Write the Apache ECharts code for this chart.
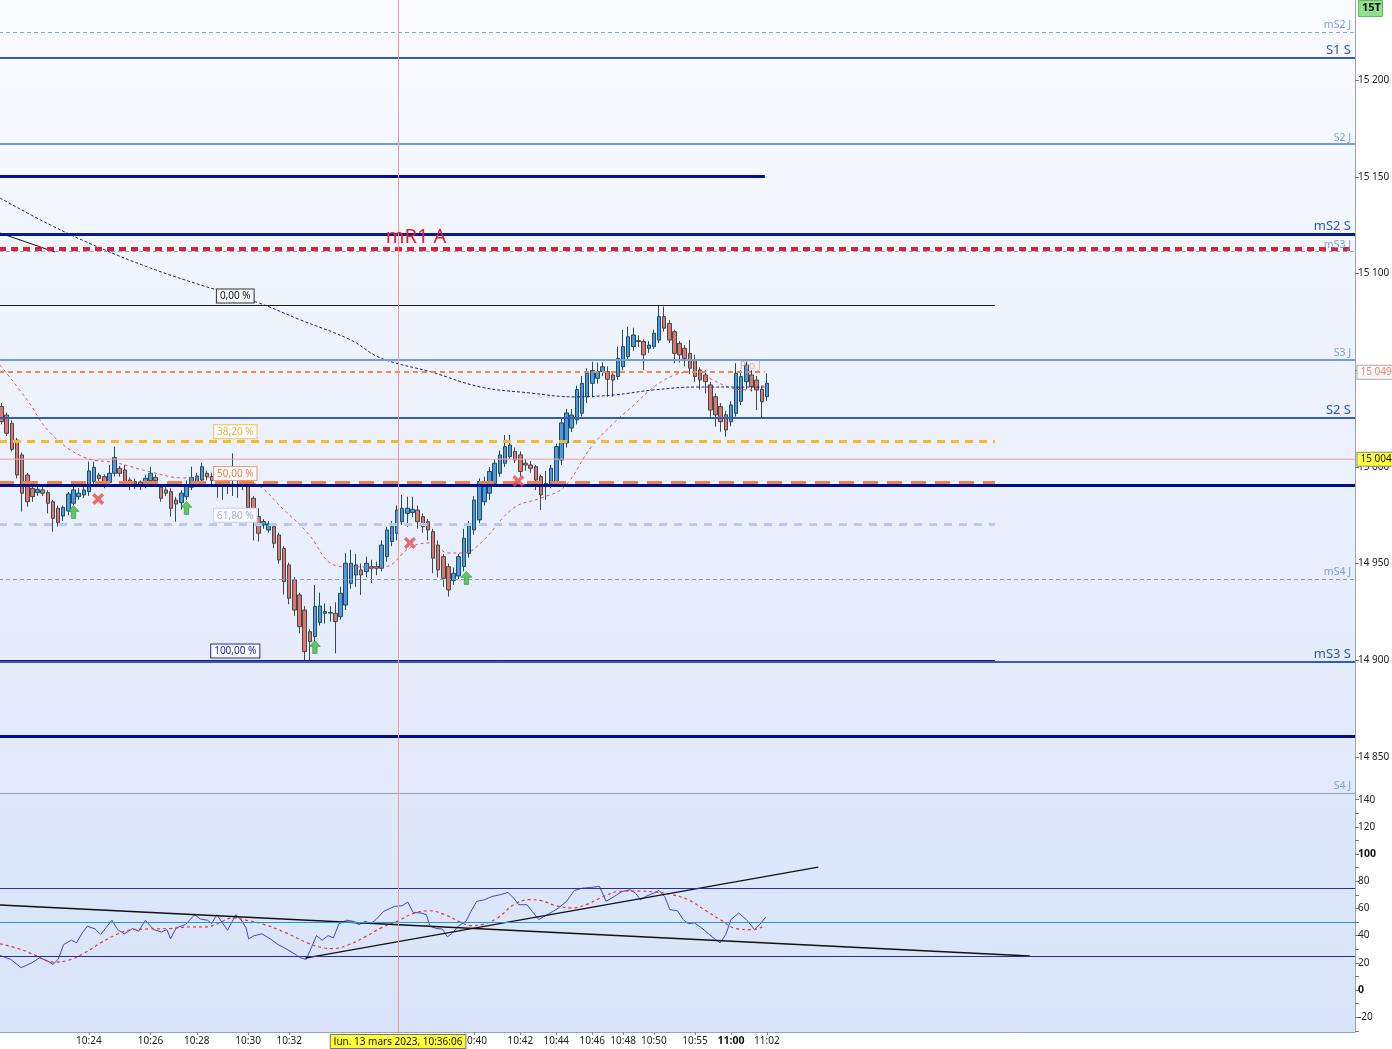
<!DOCTYPE html>
<html><head><meta charset="utf-8">
<script src="https://cdn.jsdelivr.net/npm/echarts@6/dist/echarts.min.js"></script>
<style>html,body{margin:0;padding:0;background:#fff}#c{width:1392px;height:1049px}</style>
</head><body><div id="c"></div>
<script>
// ---------- DATA ----------
const SLOTS = 264; // candle slots across the plot width (150 used)
const opens = [15031.2,15026.8,15022.5,15013.9,15006.2,14995.8,14988.9,14986.7,14988.1,14986.7,
14982.0,14978.6,14974.6,14977.2,14981.2,14984.6,14985.5,14987.2,14992.4,14995.8,
14995.0,14991.9,14996.7,14999.3,14998.4,14993.2,14992.4,14992.2,14991.5,14992.9,
14994.6,14989.5,14988.1,14987.2,14982.9,14981.5,14984.6,14989.5,14992.4,14993.2,
14996.7,14995.0,14992.0,14990.5,14991.5,14990.0,14991.0,14990.0,14990.5,14983.8,
14974.3,14970.0,14967.4,14969.1,14964.8,14957.9,14949.3,14941.6,14933.8,14926.0,
14914.8,14912.3,14919.5,14924.3,14924.8,14924.3,14922.6,14928.6,14939.8,14944.1,
14946.7,14945.9,14948.5,14948.5,14947.6,14953.6,14961.4,14965.7,14971.7,14976.0,
14976.4,14977.7,14974.3,14971.7,14966.5,14959.6,14953.6,14948.4,14941.2,14943.6,
14948.5,14955.3,14967.4,14972.6,14982.0,14986.4,14991.5,14996.7,15001.9,15005.3,
15007.9,15006.2,15001.9,15001.0,15000.1,14995.0,14991.5,14990.7,14991.5,15003.6,
15012.4,15020.1,15024.3,15027.7,15036.3,15043.2,15045.8,15049.3,15049.3,15047.5,
15046.7,15051.8,15057.0,15062.2,15065.3,15064.8,15061.3,15062.2,15065.6,15077.7,
15074.2,15069.9,15063.9,15061.3,15058.7,15055.3,15050.1,15047.5,15042.4,15036.3,
15031.2,15026.9,15023.4,15027.7,15033.9,15044.1,15047.5,15044.9,15040.1,15036.3];
const closes = [15023.4,15017.4,15009.1,14995.8,14986.4,14982.0,14984.6,14988.4,14986.4,14981.2,
14973.4,14971.2,14979.1,14986.0,14988.1,14986.4,14988.1,14997.9,14999.8,14993.9,
14992.4,14996.7,15004.8,14996.7,14992.2,14990.7,14991.2,14990.5,14994.1,14996.7,
14992.9,14983.8,14986.4,14978.6,14980.8,14986.4,14990.7,14994.6,14995.3,15000.1,
14995.0,14993.0,14990.5,14991.5,14990.0,14991.0,14990.0,14991.0,14979.0,14974.3,
14965.7,14971.7,14970.5,14960.5,14951.9,14940.7,14932.1,14926.0,14917.4,14904.5,
14909.7,14927.8,14928.1,14925.2,14924.4,14920.0,14934.6,14950.2,14950.2,14949.3,
14944.1,14950.2,14947.6,14947.6,14959.6,14967.4,14969.1,14977.7,14978.6,14978.6,
14978.1,14971.7,14969.1,14967.4,14952.8,14946.7,14942.4,14936.4,14945.0,14953.6,
14963.1,14970.0,14982.9,14992.4,14992.4,14997.6,15001.9,15006.2,15010.5,15011.3,
15003.6,14997.6,15001.0,14999.3,14993.2,14985.5,14990.7,14999.3,15010.5,15022.7,
15027.9,15026.8,15040.0,15043.2,15048.4,15049.8,15049.3,15051.8,15045.3,15044.9,
15056.1,15062.2,15067.3,15068.2,15064.8,15057.9,15063.0,15069.1,15077.7,15071.7,
15065.6,15058.7,15057.9,15056.1,15051.0,15046.7,15044.9,15044.1,15029.4,15026.9,
15023.4,15019.1,15032.0,15048.4,15046.7,15052.7,15041.5,15039.8,15033.7,15043.2];
const lows = [15022.0,15016.0,15008.0,14994.0,14976.9,14979.5,14982.0,14985.0,14985.0,14976.0,
14966.5,14969.1,14972.0,14975.0,14980.0,14983.0,14984.0,14985.0,14990.0,14992.0,
14989.0,14990.0,14995.0,14995.0,14990.0,14988.0,14988.5,14988.0,14989.0,14991.0,
14991.0,14982.0,14985.0,14974.3,14971.7,14978.0,14983.0,14988.0,14991.0,14992.0,
14993.0,14991.0,14984.0,14983.0,14986.0,14985.0,14984.0,14988.0,14977.0,14962.0,
14961.4,14968.0,14966.0,14958.0,14950.0,14934.0,14929.0,14923.0,14914.0,14899.9,
14899.5,14910.0,14918.0,14919.0,14920.0,14903.6,14921.0,14926.0,14937.0,14938.0,
14933.8,14943.0,14940.0,14944.0,14946.0,14951.0,14959.0,14962.0,14970.0,14969.0,
14974.0,14968.0,14966.0,14962.0,14945.0,14943.0,14938.0,14933.0,14939.0,14942.0,
14946.0,14953.0,14965.0,14970.0,14980.0,14983.0,14990.0,14995.0,15000.0,15004.0,
15002.0,14995.0,14998.0,14997.0,14988.0,14977.7,14983.0,14989.0,14990.0,15001.0,
15010.0,15018.0,15022.0,15026.0,15033.0,15036.0,15043.0,15047.0,15036.3,15036.3,
15045.0,15050.0,15055.0,15060.0,15062.0,15050.1,15059.0,15061.0,15064.0,15070.0,
15064.0,15053.6,15054.0,15052.0,15048.0,15044.0,15040.0,15038.0,15026.0,15020.8,
15018.2,15015.7,15021.0,15026.0,15032.0,15040.0,15039.0,15029.4,15025.1,15034.0];
const highs = [15033.0,15028.0,15024.0,15015.0,15007.5,14997.0,14990.0,14990.0,14989.5,14988.0,
14983.0,14980.0,14980.0,14987.0,14991.0,14989.0,14992.0,15002.7,15002.7,14997.0,
14996.0,15001.0,15010.5,15000.5,15001.0,14994.5,14994.0,14993.0,14996.0,15000.1,
14996.0,14991.0,14989.5,14989.0,14984.5,14988.0,14993.0,15000.1,14997.0,15002.2,
14998.0,14997.0,14994.0,14995.0,14993.0,15007.0,14994.0,14994.0,14992.0,14985.0,
14978.6,14973.0,14972.0,14970.5,14966.0,14959.0,14950.5,14943.0,14935.0,14928.0,
14916.0,14939.0,14935.0,14929.5,14928.0,14930.0,14938.0,14955.4,14957.1,14955.0,
14950.0,14953.6,14952.0,14951.0,14962.0,14969.0,14972.0,14980.0,14985.5,14984.6,
14984.6,14980.0,14976.0,14973.0,14968.0,14962.0,14955.0,14950.0,14948.0,14955.0,
14968.0,14972.0,14985.0,14994.0,14995.0,15000.0,15004.0,15008.5,15016.5,15016.5,
15010.0,15008.0,15004.0,15003.0,15001.0,14996.0,14998.0,15001.0,15012.0,15025.0,
15030.0,15030.0,15042.0,15047.0,15051.0,15054.4,15054.0,15054.0,15052.0,15049.0,
15062.2,15070.8,15072.5,15072.0,15068.0,15066.0,15065.0,15071.0,15083.2,15082.9,
15076.0,15071.0,15065.0,15063.0,15065.6,15058.0,15051.5,15050.0,15044.0,15038.0,
15033.0,15029.0,15034.0,15053.6,15050.0,15054.4,15050.0,15047.0,15042.0,15048.4];

const timeTickIndex  = [17,29,38,48,56,92,101,108,115,121,127,135,142,149];
const timeTickLabels = ['10:24','10:26','10:28','10:30','10:32','10:40','10:42','10:44','10:46','10:48','10:50','10:55','11:00','11:02'];
const boldTimeLabel = '11:00';

const priceTicks = [14850,14900,14950,15000,15050,15100,15150,15200];
const rsiTicks = [-20,0,20,40,60,80,100,120,140];
const rsiMinorTicks = [-30,-20,-10,0,10,20,30,40,50,60,70,80,90,100,110,120,130,140];
const boldRsiLabels = [0,100];

const levelNames  = ['mS2 J','S1 S','S2 J','','mS2 S','mS3 J','mR1 A','S3 J','Pio J','S2 S','','mS4 J','mS3 S','','S4 J'];
const levelValues = [15224.9,15211.4,15166.9,15150.4,15120.4,15111.6,15112.7,15055.3,15049.0,15025.3,14990.6,14942.1,14899.1,14860.9,14831.4];
const levelEnds   = [263.5,263.5,263.5,148.6,263.5,263.5,263.5,263.5,148.6,263.5,263.5,263.5,263.5,263.5,263.5];
const levelKinds  = ['dashJ','solidS','solidJ','navy','navyS','dashJ','red','solidJ','pivot','solidS','navy','dashGrey','solidS','navy','border'];
const mR1LabelAt = 80.7;

const fiboLabels = ['0,00 %','38,20 %','50,00 %','61,80 %','100,00 %'];
const fiboValues = [15083.7,15013.5,14992.0,14970.3,14900.2];
const fiboEnd = 193.4;
const fiboLabelAt = 45.5;

const currentPrice = 15004;
const pivotTag = 15049;
const crosshairIndex = 77.2;
const crosshairLabel = 'lun. 13 mars 2023, 10:36:06';
const timeframe = '15T';

const ma20 = [[-0.3,15052.7],[5,15034.6],[9.5,15017.5],[16,15005.1],[22.5,15002.0],[29,14997.4],[35.4,14994.3],[41.3,14994.8],[49,14991.7],[55,14977.7],[59.6,14965.8],[64.7,14949.3],[68,14948.3],[74.4,14948.3],[79.7,14958.6],[83.6,14960.7],[86.9,14955.5],[90,14955.5],[93.3,14960.7],[99.7,14978.8],[105,14983.9],[109.5,14989.6],[114.8,15010.3],[119.2,15022.7],[123.1,15032.0],[127,15041.3],[131,15047.5],[134.3,15049.1],[137.6,15046.0],[142,15040.8],[145.4,15039.8],[148.5,15042.4]];
const ma200 = [[-0.3,15139.0],[9.5,15125.1],[19.2,15113.2],[29,15102.8],[38.7,15094.1],[49.5,15085.3],[58.2,15076.0],[68,15065.6],[73.8,15056.3],[83.6,15049.1],[93.3,15041.3],[103,15038.2],[111.4,15036.2],[119.2,15037.2],[127,15039.8],[135.6,15041.3],[142,15041.3],[148.5,15041.3]];
const priceTrend = [[-0.3,15120.9],[10.4,15111.1]];

const upSignals = [[14,14976.7],[36,14978.8],[61,14906.9],[90.5,14942.6]];
const downSignals = [[18.8,14983.4],[79.5,14960.7],[100.6,14992.7]];

const rsiLine = [[-0.3,25.4],[1.8,22.5],[3.8,16.4],[5.9,20.0],[7.4,23.7],[9.0,21.3],[10.0,18.8],[11.0,22.5],[12.1,33.5],[13.6,36.6],[14.6,34.7],[15.7,42.0],[16.7,46.9],[18.2,44.9],[19.3,40.8],[20.3,45.7],[21.5,51.3],[22.6,44.4],[23.9,41.3],[25.5,45.2],[26.7,43.2],[28.0,51.3],[29.6,44.4],[31.1,42.7],[32.2,44.4],[32.9,37.6],[34.0,45.7],[35.8,48.1],[37.6,55.4],[38.7,52.2],[40.1,51.3],[40.9,48.8],[41.9,55.4],[43.0,49.3],[44.0,44.0],[45.6,55.4],[46.6,51.8],[47.6,45.7],[48.1,37.6],[49.2,40.0],[50.7,41.3],[52.3,37.6],[53.8,33.5],[55.4,30.3],[56.9,26.9],[58.2,23.7],[59.3,22.5],[60.3,31.0],[61.3,40.0],[62.4,36.6],[63.6,40.0],[64.6,38.3],[65.7,48.8],[67.2,51.3],[68.5,50.5],[69.6,48.1],[70.8,50.5],[71.9,48.8],[72.9,51.8],[74.4,57.9],[76.5,61.5],[78.0,62.0],[79.1,64.7],[80.1,57.1],[81.7,56.6],[82.7,55.4],[83.4,46.9],[84.7,45.2],[85.8,44.9],[86.8,39.1],[87.8,42.0],[88.9,46.9],[90.4,50.5],[91.4,57.9],[92.5,65.2],[94.0,66.4],[95.5,68.8],[97.1,70.1],[98.6,71.8],[99.7,67.6],[100.7,62.7],[102.3,62.7],[103.3,57.9],[104.6,51.8],[105.9,54.7],[107.4,57.9],[108.4,60.3],[110.0,65.2],[111.5,73.2],[113.1,74.9],[114.6,75.4],[116.4,76.2],[117.7,65.2],[119.3,68.8],[120.8,72.5],[122.4,73.7],[123.4,71.3],[124.4,66.4],[125.4,68.8],[127.0,71.3],[128.0,73.2],[129.1,68.8],[130.1,59.1],[131.6,58.3],[132.7,51.8],[133.7,48.8],[134.9,49.3],[136.3,45.7],[137.8,40.8],[139.0,37.1],[139.9,34.7],[141.0,40.8],[142.0,51.8],[143.5,56.6],[145.0,51.8],[146.6,44.4],[147.6,48.1],[148.8,53.7]];
const rsiSignal = [[-0.3,34.0],[3.8,29.8],[6.9,24.9],[10.0,20.5],[13.1,22.0],[16.2,27.4],[19.3,34.7],[22.4,40.8],[25.5,44.4],[28.6,44.9],[32.7,45.2],[36.8,46.4],[39.9,46.4],[42.0,48.8],[45.0,53.0],[48.1,51.0],[51.2,48.1],[55.4,42.0],[59.5,34.7],[62.6,31.0],[64.6,30.5],[67.7,33.5],[70.8,39.1],[73.9,45.7],[77.0,50.5],[80.1,56.2],[83.2,58.3],[86.3,55.4],[89.4,49.8],[91.4,47.4],[93.5,48.1],[96.6,53.0],[99.7,62.7],[102.8,66.4],[104.8,65.9],[107.9,62.0],[111.0,60.3],[114.1,63.2],[117.2,68.8],[120.3,72.5],[123.4,72.7],[127.5,72.0],[130.6,70.1],[133.7,66.4],[136.8,59.1],[139.9,51.8],[143.0,45.2],[146.1,44.4],[148.1,46.4]];
const rsiLevels = [75,50,25];
const rsiTrendA = [[-0.3,62.5],[200.2,25.0]];
const rsiTrendB = [[59.1,23.5],[159.0,90.4]];

// ---------- STYLES ----------
const kindStyles = {
  dashJ:   {color:'#86a3e3', width:1, type:[4,3], labelColor:'#7f9de3', fontSize:10.5},
  solidS:  {color:'#3459c0', width:2, type:'solid', labelColor:'#2c55b8', fontSize:13},
  solidJ:  {color:'#739ce6', width:2, type:'solid', labelColor:'#7f9de3', fontSize:10.5},
  navy:    {color:'#000e8c', width:3, type:'solid'},
  navyS:   {color:'#0a1a8c', width:3, type:'solid', labelColor:'#2c55b8', fontSize:13},
  red:     {color:'#e3202b', width:4, type:[7,5]},
  pivot:   {color:'#f08848', width:2, type:[5,4], labelColor:'#f2ad90', fontSize:10.5},
  dashGrey:{color:'#8d95cc', width:1, type:[4,3], labelColor:'#7f9de3', fontSize:10.5},
  border:  {color:'#9aa4b8', width:1, type:'solid', labelColor:'#7f9de3', fontSize:10.5}
};
const fiboStyle = [
  {line:'#1a1a1a', width:1, type:'solid', text:'#111', border:'#333'},
  {line:'#f5b82e', width:3, type:[8,6], text:'#f0b23a', border:'#f5c451'},
  {line:'#f0804e', width:3, type:[15,9], text:'#ee7b45', border:'#f29a70'},
  {line:'#b9c9f6', width:3, type:[8,7], text:'#9fb0dc', border:'#c6d3f5'},
  {line:'#1b1b70', width:1, type:'solid', text:'#2c2c9c', border:'#2c2c9c'}
];
const FONT = 'Noto Sans, DejaVu Sans, sans-serif';

// ---------- BUILD ----------
const fmt = v => String(v).replace(/\B(?=(\d{3})+(?!\d))/g, ' ');
const cats = Array.from({length: SLOTS}, (_, i) => String(i));
const tickMap = {};
timeTickIndex.forEach((k, j) => tickMap[k] = timeTickLabels[j]);
const showTick = idx => tickMap[idx] !== undefined;

const candleData = opens.map((o, i) => [o, closes[i], lows[i], highs[i]]);

const levelLines = levelValues.map((v, i) => {
  const st = kindStyles[levelKinds[i]];
  const hasLabel = levelNames[i] && st.labelColor;
  return [{
    coord: [-0.5, v],
    lineStyle: {color: st.color, width: st.width, type: st.type},
    label: hasLabel ? {show: true, position: 'insideEndTop', formatter: levelNames[i], color: st.labelColor,
      fontSize: st.fontSize, fontFamily: FONT, distance: [4, 1]} : {show: false}
  }, {coord: [levelEnds[i], v]}];
});
const fiboLines = fiboValues.map((v, i) => [{
  coord: [-0.5, v],
  lineStyle: {color: fiboStyle[i].line, width: fiboStyle[i].width, type: fiboStyle[i].type},
  label: {show: false}
}, {coord: [fiboEnd, v]}]);

const fiboPoints = fiboValues.map((v, i) => ({
  coord: [fiboLabelAt, v],
  symbol: 'circle', symbolSize: 1, itemStyle: {color: 'rgba(0,0,0,0)'},
  label: {show: true, position: 'top', distance: 2, formatter: fiboLabels[i], color: fiboStyle[i].text,
    borderColor: fiboStyle[i].border, borderWidth: 1, backgroundColor: 'rgba(252,253,255,0.95)',
    padding: [2, 3, 1, 3], fontSize: 10, fontFamily: FONT}
}));
const mr1Value = levelValues[levelNames.indexOf('mR1 A')];
const tagPoints = [
  {coord: [SLOTS - 0.5, currentPrice], symbol: 'circle', symbolSize: 1, itemStyle: {color: 'rgba(0,0,0,0)'},
   label: {show: true, position: 'right', distance: 2, formatter: fmt(currentPrice), color: '#111', backgroundColor: '#ffff3c',
     borderColor: '#888', borderWidth: 1, padding: [2, 3, 1, 3], fontSize: 10, fontFamily: FONT}},
  {coord: [SLOTS - 0.5, pivotTag], symbol: 'circle', symbolSize: 1, itemStyle: {color: 'rgba(0,0,0,0)'},
   label: {show: true, position: 'right', distance: 2, formatter: fmt(pivotTag), color: '#f08860', backgroundColor: '#f6f7fa',
     borderColor: '#aaa', borderWidth: 1, padding: [2, 3, 1, 3], fontSize: 10, fontFamily: FONT}},
  {coord: [mR1LabelAt, mr1Value], symbol: 'circle', symbolSize: 1, itemStyle: {color: 'rgba(0,0,0,0)'},
   label: {show: true, position: 'top', distance: 1, formatter: 'mR1 A', color: '#e3202b', fontSize: 20, fontFamily: FONT}}
];

const arrowPath = 'path://M5 0 L10 5 L7 5 L7 11 L3 11 L3 5 L0 5 Z';
const crossPath = 'path://M0 2 L2 0 L5 3 L8 0 L10 2 L7 5 L10 8 L8 10 L5 7 L2 10 L0 8 L3 5 Z';

const chart = echarts.init(document.getElementById('c'));
chart.setOption({
  animation: false,
  textStyle: {fontFamily: FONT},
  graphic: [
    {type: 'rect', left: 1358, top: 0, z: 100, shape: {width: 24, height: 16}, style: {fill: '#8fe08f', stroke: '#6ab56a'}},
    {type: 'text', left: 1362, top: 2, z: 101, style: {text: timeframe, fontSize: 11, fontWeight: 'bold', fill: '#111', fontFamily: FONT}}
  ],
  grid: [
    {left: -1, right: 37, top: 0, height: 793, show: true, borderWidth: 0, outerBoundsMode: 'none',
     backgroundColor: new echarts.graphic.LinearGradient(0, 0, 0, 1, [{offset: 0, color: '#f9fbff'}, {offset: 1, color: '#e1e9fb'}])},
    {left: -1, right: 37, top: 793, height: 239, show: true, borderWidth: 0, outerBoundsMode: 'none',
     backgroundColor: new echarts.graphic.LinearGradient(0, 0, 0, 1, [{offset: 0, color: '#dfe8fb'}, {offset: 1, color: '#d9e4fa'}])}
  ],
  xAxis: [
    {type: 'category', gridIndex: 0, data: cats, boundaryGap: true, position: 'bottom',
     axisLine: {show: true, onZero: false, lineStyle: {color: '#9aa4b8'}}, axisTick: {show: false}, axisLabel: {show: false}, splitLine: {show: false}},
    {type: 'value', gridIndex: 0, min: -0.5, max: SLOTS - 0.5, show: false, axisLine: {onZero: false}},
    {type: 'category', gridIndex: 1, data: cats, boundaryGap: true, position: 'bottom',
     axisLine: {show: true, onZero: false, lineStyle: {color: '#9aa4b8'}},
     axisTick: {show: true, interval: showTick, alignWithLabel: true, length: 3, lineStyle: {color: '#888'}},
     axisLabel: {interval: showTick, margin: 4, fontSize: 10, color: '#222', fontFamily: FONT,
       formatter: (v) => { const t = tickMap[Number(v)] || ''; return t === boldTimeLabel ? '{b|' + t + '}' : t; },
       rich: {b: {fontWeight: 'bold', fontSize: 10.5, color: '#111', fontFamily: FONT}}},
     splitLine: {show: false}},
    {type: 'value', gridIndex: 1, min: -0.5, max: SLOTS - 0.5, show: false, axisLine: {onZero: false}}
  ],
  yAxis: [
    {type: 'value', gridIndex: 0, position: 'right', min: 14831.4, max: 15241.4,
     axisLine: {show: true, onZero: false, lineStyle: {color: '#9aa4b8'}},
     axisTick: {show: true, length: 4, customValues: priceTicks, lineStyle: {color: '#777'}},
     axisLabel: {customValues: priceTicks, formatter: v => fmt(v), color: '#222', fontSize: 10, margin: 3, fontFamily: FONT},
     splitLine: {show: false}},
    {type: 'value', gridIndex: 1, position: 'right', min: -30.9, max: 144.9,
     axisLine: {show: true, onZero: false, lineStyle: {color: '#9aa4b8'}},
     axisTick: {show: true, length: 4, customValues: rsiMinorTicks, lineStyle: {color: '#777'}},
     axisLabel: {customValues: rsiTicks, color: '#222', fontSize: 10, margin: 3, fontFamily: FONT,
       formatter: v => boldRsiLabels.includes(v) ? '{b|' + v + '}' : String(v),
       rich: {b: {fontWeight: 'bold', fontSize: 10.5, color: '#111', fontFamily: FONT}}},
     splitLine: {show: false}}
  ],
  series: [
    {type: 'candlestick', name: 'prix', xAxisIndex: 0, yAxisIndex: 0, data: candleData, barWidth: 4, z: 2,
     itemStyle: {color: '#4e97e6', color0: '#e0766b', borderColor: '#1f4e5a', borderColor0: '#3c4a4c', borderWidth: 1}},
    {type: 'line', name: 'cours', xAxisIndex: 1, yAxisIndex: 0, z: 3, clip: false,
     data: [[-0.5, currentPrice], [SLOTS - 0.5, currentPrice]], symbol: 'none',
     lineStyle: {color: '#f4a3a3', width: 1},
     markLine: {symbol: ['none', 'none'], silent: true, animation: false,
       data: [...levelLines, ...fiboLines,
         {xAxis: crosshairIndex, lineStyle: {color: '#f29a9a', width: 1, type: 'solid'}, label: {show: false}}]},
     markPoint: {silent: true, animation: false, data: [...fiboPoints, ...tagPoints]}},
    {type: 'line', name: 'MA court', xAxisIndex: 1, yAxisIndex: 0, data: ma20, smooth: 0.4, symbol: 'none', z: 4,
     lineStyle: {color: '#e25656', width: 1, type: [3, 3]}},
    {type: 'line', name: 'MA long', xAxisIndex: 1, yAxisIndex: 0, data: ma200, smooth: 0.4, symbol: 'none', z: 4,
     lineStyle: {color: '#1a237e', width: 1, type: [3, 2]}},
    {type: 'line', name: 'tendance', xAxisIndex: 1, yAxisIndex: 0, data: priceTrend, symbol: 'none', z: 4,
     lineStyle: {color: '#111', width: 1}},
    {type: 'scatter', name: 'achat', xAxisIndex: 1, yAxisIndex: 0, data: upSignals, symbol: arrowPath, symbolSize: [11, 13], z: 5,
     itemStyle: {color: '#3dbb3d', borderColor: '#1f7a1f', borderWidth: 0.6}},
    {type: 'scatter', name: 'vente', xAxisIndex: 1, yAxisIndex: 0, data: downSignals, symbol: crossPath, symbolSize: [12, 12], z: 5,
     itemStyle: {color: '#e84a4a'}},
    {type: 'line', name: 'RSI', xAxisIndex: 3, yAxisIndex: 1, data: rsiLine, symbol: 'none', z: 4,
     lineStyle: {color: '#4545c8', width: 1},
     markLine: {symbol: ['none', 'none'], silent: true, animation: false,
       data: [
         ...rsiLevels.map(v => ({yAxis: v, label: {show: false},
           lineStyle: {color: v === 50 ? '#2a98c6' : '#2c2c9a', width: 1, type: 'solid'}})),
         {xAxis: crosshairIndex, lineStyle: {color: '#f29a9a', width: 1, type: 'solid'},
          label: {show: true, position: 'start', distance: 3, formatter: crosshairLabel, color: '#111',
            backgroundColor: '#ffff33', borderColor: '#777', borderWidth: 1, padding: [2, 3, 1, 3], fontSize: 10, fontFamily: FONT}}
       ]}},
    {type: 'line', name: 'signal', xAxisIndex: 3, yAxisIndex: 1, data: rsiSignal, smooth: 0.4, symbol: 'none', z: 4,
     lineStyle: {color: '#e23a3a', width: 1.2, type: [3, 3]}},
    {type: 'line', name: 'tendance RSI A', xAxisIndex: 3, yAxisIndex: 1, data: rsiTrendA, symbol: 'none', z: 4,
     lineStyle: {color: '#111', width: 1.3}},
    {type: 'line', name: 'tendance RSI B', xAxisIndex: 3, yAxisIndex: 1, data: rsiTrendB, symbol: 'none', z: 4,
     lineStyle: {color: '#111', width: 1.3}}
  ]
});
</script></body></html>
